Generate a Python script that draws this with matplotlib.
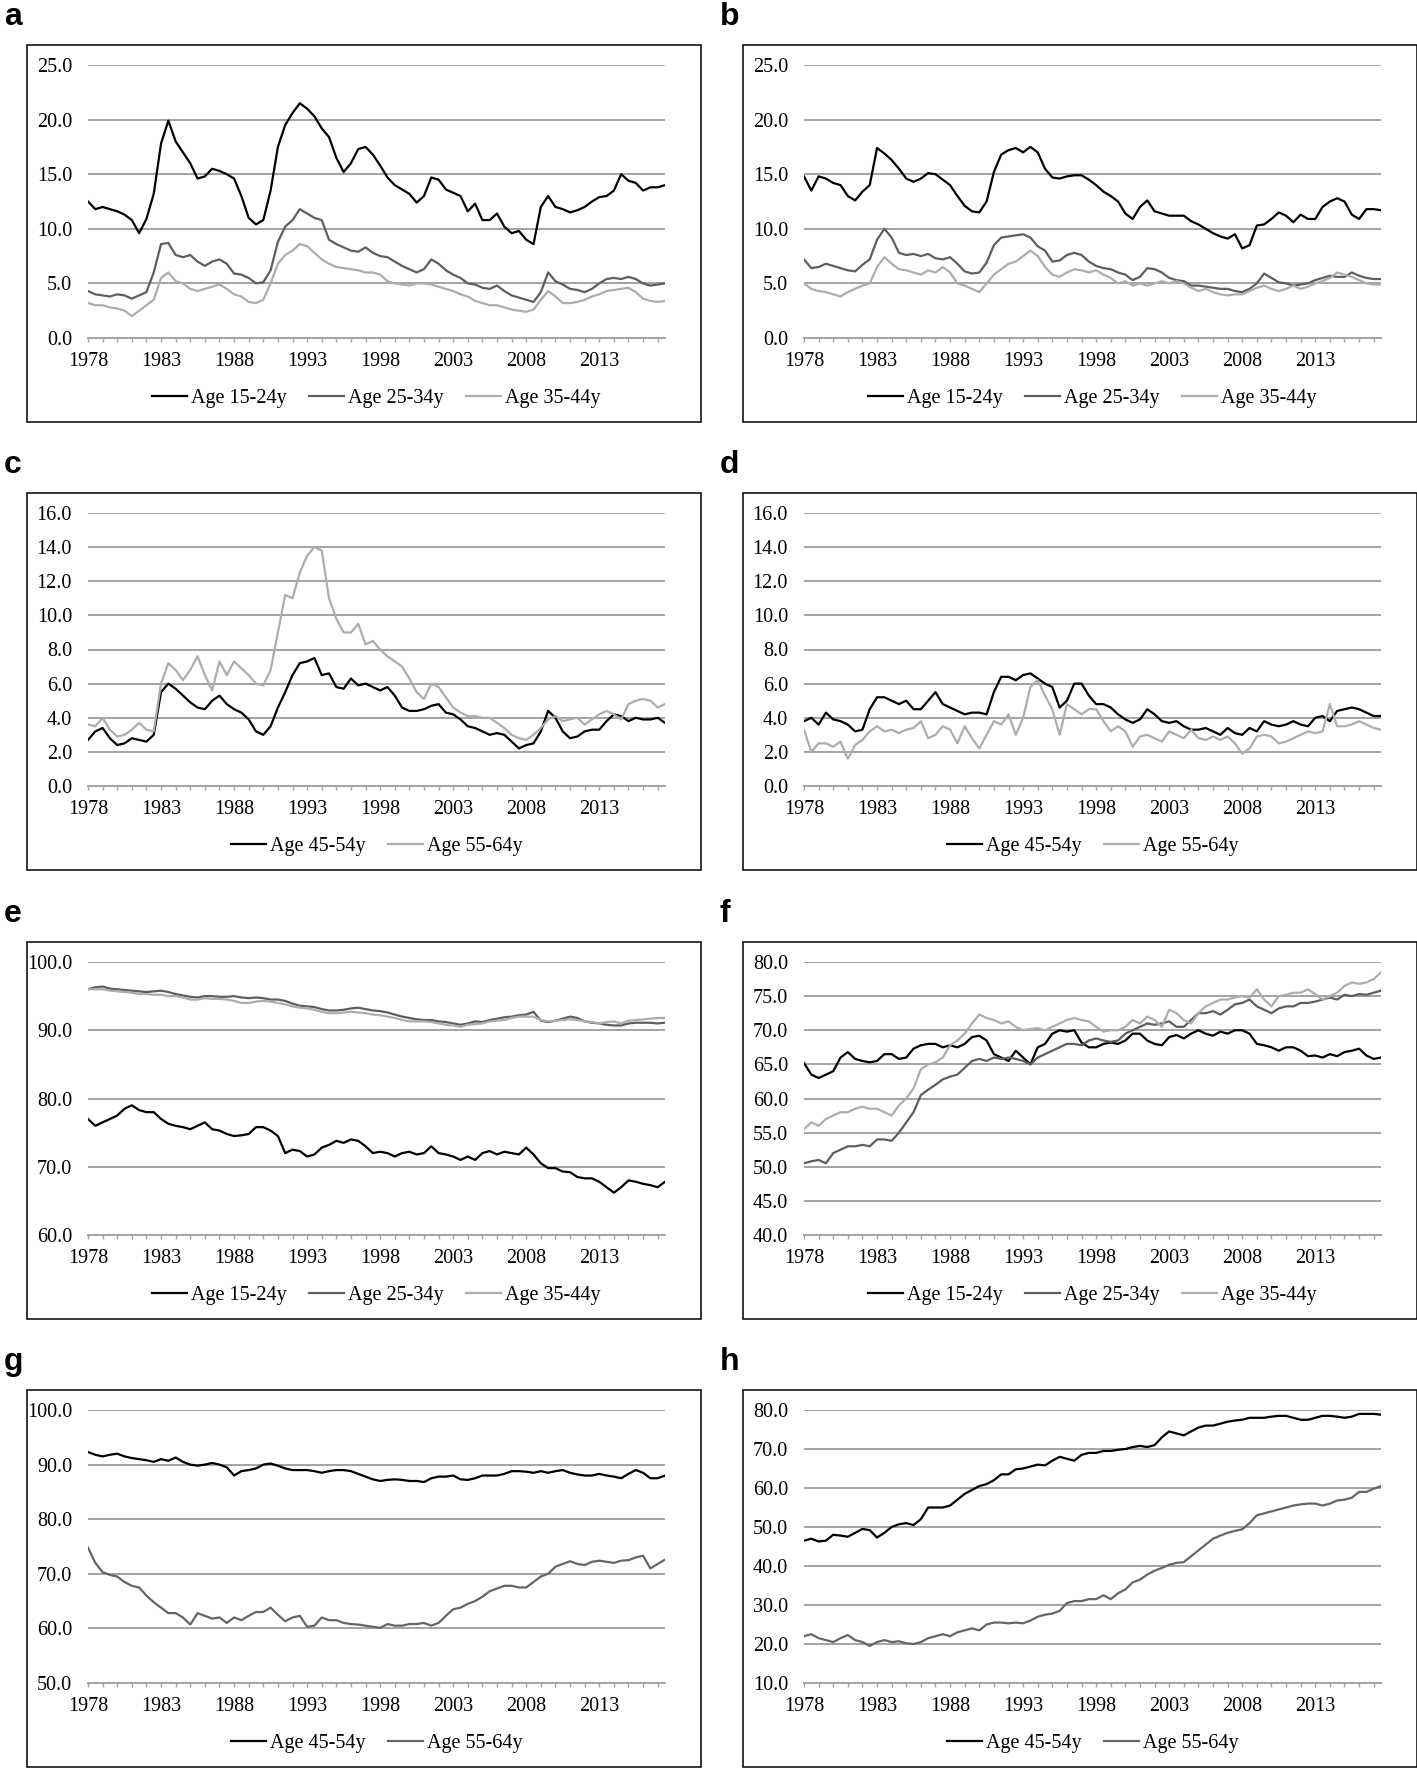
import numpy as np
import matplotlib.pyplot as plt
from matplotlib.patches import Rectangle

# half-year sample dates, 1978.0 ... 2017.5
t = 1978 + 0.5 * np.arange(80)

# a: unemployment rate, ages 15-44 (first group)
a_15 = [12.5, 11.8, 12.0, 11.8, 11.6, 11.3, 10.8, 9.6, 10.9, 13.2,
        17.8, 19.9, 18.0, 17.0, 16.0, 14.6, 14.8, 15.5, 15.3, 15.0,
        14.6, 13.0, 11.0, 10.4, 10.8, 13.5, 17.5, 19.5, 20.6, 21.5,
        21.0, 20.3, 19.2, 18.4, 16.5, 15.2, 16.0, 17.3, 17.5, 16.8,
        15.8, 14.7, 14.0, 13.6, 13.2, 12.4, 13.0, 14.7, 14.5, 13.6,
        13.3, 13.0, 11.6, 12.3, 10.8, 10.8, 11.4, 10.2, 9.6, 9.8,
        9.0, 8.6, 12.0, 13.0, 12.0, 11.8, 11.5, 11.7, 12.0, 12.5,
        12.9, 13.0, 13.5, 15.0, 14.4, 14.2, 13.5, 13.8, 13.8, 14.0]
a_25 = [4.3, 4.0, 3.9, 3.8, 4.0, 3.9, 3.6, 3.9, 4.2, 6.0,
        8.6, 8.7, 7.6, 7.4, 7.6, 7.0, 6.6, 7.0, 7.2, 6.8,
        5.9, 5.8, 5.5, 5.0, 5.1, 6.2, 8.8, 10.2, 10.8, 11.8,
        11.4, 11.0, 10.8, 9.0, 8.6, 8.3, 8.0, 7.9, 8.3, 7.8,
        7.5, 7.4, 7.0, 6.6, 6.3, 6.0, 6.3, 7.2, 6.8, 6.2,
        5.8, 5.5, 5.0, 4.9, 4.6, 4.5, 4.8, 4.3, 3.9, 3.7,
        3.5, 3.3, 4.2, 6.0, 5.2, 4.9, 4.5, 4.4, 4.2, 4.5,
        5.0, 5.4, 5.5, 5.4, 5.6, 5.4, 5.0, 4.8, 4.9, 5.0]
a_35 = [3.2, 3.0, 3.0, 2.8, 2.7, 2.5, 2.0, 2.5, 3.0, 3.5,
        5.5, 6.0, 5.2, 5.0, 4.5, 4.3, 4.5, 4.7, 4.9, 4.5,
        4.0, 3.8, 3.3, 3.2, 3.5, 5.0, 6.8, 7.6, 8.0, 8.6,
        8.4, 7.8, 7.2, 6.8, 6.5, 6.4, 6.3, 6.2, 6.0, 6.0,
        5.8, 5.2, 5.0, 4.9, 4.8, 5.0, 5.0, 4.9, 4.7, 4.5,
        4.3, 4.0, 3.8, 3.4, 3.2, 3.0, 3.0, 2.8, 2.6, 2.5,
        2.4, 2.6, 3.5, 4.3, 3.8, 3.2, 3.2, 3.3, 3.5, 3.8,
        4.0, 4.3, 4.4, 4.5, 4.6, 4.2, 3.6, 3.4, 3.3, 3.4]

# b
b_15 = [14.8, 13.5, 14.8, 14.6, 14.2, 14.0, 13.0, 12.6, 13.4, 14.0,
        17.4, 16.9, 16.3, 15.5, 14.6, 14.3, 14.6, 15.1, 15.0, 14.5,
        14.0, 13.0, 12.1, 11.6, 11.5, 12.5, 15.2, 16.8, 17.2, 17.4,
        17.0, 17.5, 17.0, 15.5, 14.7, 14.6, 14.8, 14.9, 14.9, 14.5,
        14.0, 13.4, 13.0, 12.5, 11.4, 10.9, 12.0, 12.6, 11.6, 11.4,
        11.2, 11.2, 11.2, 10.7, 10.4, 10.0, 9.6, 9.3, 9.1, 9.5,
        8.2, 8.5, 10.3, 10.4, 10.9, 11.5, 11.2, 10.6, 11.3, 10.9,
        10.9, 12.0, 12.5, 12.8, 12.5, 11.3, 10.9, 11.8, 11.8, 11.7]
b_25 = [7.2, 6.4, 6.5, 6.8, 6.6, 6.4, 6.2, 6.1, 6.7, 7.2,
        9.0, 10.0, 9.2, 7.8, 7.6, 7.7, 7.5, 7.7, 7.3, 7.2,
        7.4, 6.8, 6.1, 5.9, 6.0, 6.9, 8.5, 9.2, 9.3, 9.4,
        9.5, 9.2, 8.4, 8.0, 7.0, 7.1, 7.6, 7.8, 7.6, 7.0,
        6.6, 6.4, 6.3, 6.0, 5.8, 5.3, 5.6, 6.4, 6.3, 6.0,
        5.5, 5.3, 5.2, 4.8, 4.8, 4.7, 4.6, 4.5, 4.5, 4.3,
        4.2, 4.5, 5.0, 5.9, 5.5, 5.1, 5.0, 4.8, 4.9, 5.0,
        5.3, 5.5, 5.7, 5.6, 5.6, 6.0, 5.7, 5.5, 5.4, 5.4]
b_35 = [5.0, 4.5, 4.3, 4.2, 4.0, 3.8, 4.2, 4.5, 4.8, 5.0,
        6.5, 7.4, 6.8, 6.3, 6.2, 6.0, 5.8, 6.2, 6.0, 6.5,
        6.0, 5.0, 4.8, 4.5, 4.2, 5.0, 5.8, 6.3, 6.8, 7.0,
        7.5, 8.0, 7.5, 6.5, 5.8, 5.6, 6.0, 6.3, 6.2, 6.0,
        6.2, 5.8, 5.5, 5.0, 5.2, 4.8, 5.0, 4.8, 5.0, 5.2,
        5.0, 5.2, 5.0, 4.6, 4.3, 4.5, 4.2, 4.0, 3.9, 4.0,
        4.0, 4.3, 4.6, 4.8, 4.5, 4.3, 4.5, 4.8, 4.5, 4.7,
        5.0, 5.2, 5.5, 6.0, 5.8, 5.6, 5.3, 5.0, 4.9, 4.9]

# c
c_45 = [2.7, 3.2, 3.4, 2.8, 2.4, 2.5, 2.8, 2.7, 2.6, 3.0,
        5.5, 6.0, 5.7, 5.3, 4.9, 4.6, 4.5, 5.0, 5.3, 4.8,
        4.5, 4.3, 3.9, 3.2, 3.0, 3.5, 4.6, 5.5, 6.5, 7.2,
        7.3, 7.5, 6.5, 6.6, 5.8, 5.7, 6.3, 5.9, 6.0, 5.8,
        5.6, 5.8, 5.3, 4.6, 4.4, 4.4, 4.5, 4.7, 4.8, 4.3,
        4.2, 3.9, 3.5, 3.4, 3.2, 3.0, 3.1, 3.0, 2.6, 2.2,
        2.4, 2.5, 3.2, 4.4, 4.0, 3.2, 2.8, 2.9, 3.2, 3.3,
        3.3, 3.8, 4.2, 4.1, 3.8, 4.0, 3.9, 3.9, 4.0, 3.7]
c_55 = [3.6, 3.5, 4.0, 3.3, 2.9, 3.0, 3.3, 3.7, 3.3, 3.2,
        6.0, 7.2, 6.8, 6.2, 6.8, 7.6, 6.5, 5.6, 7.3, 6.5,
        7.3, 6.9, 6.5, 6.0, 5.9, 6.8, 9.0, 11.2, 11.0, 12.5,
        13.5, 14.0, 13.8, 11.0, 9.8, 9.0, 9.0, 9.5, 8.3, 8.5,
        8.0, 7.6, 7.3, 7.0, 6.3, 5.5, 5.1, 6.0, 5.8, 5.2,
        4.6, 4.3, 4.1, 4.1, 4.0, 4.0, 3.7, 3.4, 3.0, 2.8,
        2.7, 3.0, 3.4, 3.9, 4.1, 3.8, 3.9, 4.0, 3.6, 3.9,
        4.2, 4.4, 4.2, 3.9, 4.8, 5.0, 5.1, 5.0, 4.6, 4.8]

# d
d_45 = [3.8, 4.0, 3.6, 4.3, 3.9, 3.8, 3.6, 3.2, 3.3, 4.5,
        5.2, 5.2, 5.0, 4.8, 5.0, 4.5, 4.5, 5.0, 5.5, 4.8,
        4.6, 4.4, 4.2, 4.3, 4.3, 4.2, 5.5, 6.4, 6.4, 6.2,
        6.5, 6.6, 6.3, 6.0, 5.8, 4.6, 5.0, 6.0, 6.0, 5.3,
        4.8, 4.8, 4.6, 4.2, 3.9, 3.7, 3.9, 4.5, 4.2, 3.8,
        3.7, 3.8, 3.5, 3.3, 3.3, 3.4, 3.2, 3.0, 3.4, 3.1,
        3.0, 3.4, 3.2, 3.8, 3.6, 3.5, 3.6, 3.8, 3.6, 3.5,
        4.0, 4.1, 3.8, 4.4, 4.5, 4.6, 4.5, 4.3, 4.1, 4.1]
d_55 = [3.3, 2.0, 2.5, 2.5, 2.3, 2.6, 1.6, 2.4, 2.7, 3.2,
        3.5, 3.2, 3.3, 3.1, 3.3, 3.4, 3.8, 2.8, 3.0, 3.5,
        3.3, 2.5, 3.5, 2.8, 2.2, 3.0, 3.8, 3.6, 4.2, 3.0,
        4.0, 5.8, 6.2, 5.3, 4.5, 3.0, 4.8, 4.5, 4.2, 4.5,
        4.5, 3.8, 3.2, 3.5, 3.2, 2.3, 2.9, 3.0, 2.8, 2.6,
        3.2, 3.0, 2.8, 3.3, 2.8, 2.7, 2.9, 2.7, 2.9, 2.5,
        1.9, 2.2, 2.9, 3.0, 2.9, 2.5, 2.6, 2.8, 3.0, 3.2,
        3.1, 3.2, 4.8, 3.5, 3.5, 3.6, 3.8, 3.6, 3.4, 3.3]

# e
e_15 = [77.0, 76.0, 76.5, 77.0, 77.5, 78.5, 79.0, 78.3, 78.0, 78.0,
        77.0, 76.3, 76.0, 75.8, 75.5, 76.0, 76.5, 75.5, 75.3, 74.8,
        74.5, 74.6, 74.8, 75.8, 75.8, 75.3, 74.5, 72.0, 72.5, 72.3,
        71.5, 71.8, 72.8, 73.2, 73.8, 73.5, 74.0, 73.8, 73.0, 72.0,
        72.2, 72.0, 71.5, 72.0, 72.2, 71.8, 72.0, 73.0, 72.0, 71.8,
        71.5, 71.0, 71.5, 71.0, 72.0, 72.3, 71.8, 72.2, 72.0, 71.8,
        72.8, 71.8, 70.5, 69.8, 69.8, 69.3, 69.2, 68.5, 68.3, 68.3,
        67.8, 67.0, 66.2, 67.0, 68.0, 67.8, 67.5, 67.3, 67.0, 67.8]
e_25 = [96.0, 96.3, 96.4, 96.1, 96.0, 95.9, 95.8, 95.7, 95.6, 95.7,
        95.8, 95.6, 95.3, 95.1, 94.9, 94.8, 95.0, 95.0, 94.9, 94.9,
        95.0, 94.8, 94.7, 94.8, 94.7, 94.5, 94.5, 94.3, 93.9, 93.6,
        93.5, 93.4, 93.1, 92.9, 92.9, 93.0, 93.2, 93.3, 93.1, 92.9,
        92.8, 92.6, 92.3, 92.0, 91.8, 91.6, 91.5, 91.5, 91.3, 91.2,
        91.0, 90.8, 91.0, 91.3, 91.2, 91.5, 91.7, 91.9, 92.0, 92.2,
        92.3, 92.7, 91.4, 91.2, 91.4, 91.7, 92.0, 91.8, 91.3, 91.1,
        91.0, 90.8, 90.7, 90.7, 91.0, 91.1, 91.1, 91.1, 91.0, 91.1]
e_35 = [96.0, 96.0, 96.0, 95.8, 95.7, 95.6, 95.5, 95.3, 95.3, 95.2,
        95.2, 95.0, 95.0, 94.8, 94.5, 94.5, 94.7, 94.6, 94.6, 94.5,
        94.3, 94.0, 94.0, 94.2, 94.3, 94.2, 94.0, 93.8, 93.5, 93.3,
        93.2, 93.0, 92.7, 92.5, 92.5, 92.6, 92.7, 92.6, 92.5, 92.3,
        92.2, 92.0, 91.8, 91.5, 91.3, 91.3, 91.3, 91.2, 91.0, 90.8,
        90.7, 90.5, 90.8, 90.9, 91.0, 91.3, 91.4, 91.5, 91.8, 92.0,
        92.0, 92.0, 91.5, 91.3, 91.4, 91.5, 91.6, 91.5, 91.3, 91.2,
        91.0, 91.2, 91.3, 91.0, 91.4, 91.5, 91.6, 91.7, 91.8, 91.8]

# f
f_15 = [65.2, 63.5, 63.0, 63.5, 64.0, 66.0, 66.8, 65.8, 65.5, 65.3,
        65.5, 66.5, 66.5, 65.8, 66.0, 67.3, 67.8, 68.0, 68.0, 67.5,
        67.8, 67.5, 68.0, 69.0, 69.2, 68.5, 66.5, 66.0, 65.5, 67.0,
        66.0, 65.0, 67.5, 68.0, 69.5, 70.0, 69.8, 70.0, 68.2, 67.5,
        67.5, 68.0, 68.2, 68.0, 68.5, 69.5, 69.5, 68.5, 68.0, 67.8,
        69.0, 69.3, 68.8, 69.5, 70.0, 69.5, 69.2, 69.8, 69.5, 70.0,
        70.0, 69.5, 68.0, 67.8, 67.5, 67.0, 67.5, 67.5, 67.0, 66.2,
        66.3, 66.0, 66.5, 66.2, 66.8, 67.0, 67.3, 66.3, 65.8, 66.0]
f_25 = [50.5, 50.8, 51.0, 50.5, 52.0, 52.5, 53.0, 53.0, 53.2, 53.0,
        54.0, 54.0, 53.8, 55.0, 56.5, 58.0, 60.5, 61.3, 62.0, 62.8,
        63.2, 63.5, 64.5, 65.5, 65.8, 65.5, 66.0, 65.8, 66.0, 65.8,
        65.5, 65.0, 66.0, 66.5, 67.0, 67.5, 68.0, 68.0, 67.8, 68.5,
        68.8, 68.5, 68.3, 68.5, 69.5, 70.0, 70.5, 71.0, 70.8, 71.0,
        71.3, 70.5, 70.5, 71.5, 72.5, 72.5, 72.8, 72.3, 73.0, 73.8,
        74.0, 74.5, 73.5, 73.0, 72.5, 73.2, 73.5, 73.5, 74.0, 74.0,
        74.2, 74.5, 74.8, 74.5, 75.2, 75.0, 75.3, 75.2, 75.5, 75.8]
f_35 = [55.5, 56.5, 56.0, 57.0, 57.5, 58.0, 58.0, 58.5, 58.8, 58.5,
        58.5, 58.0, 57.5, 59.0, 60.0, 61.5, 64.3, 65.0, 65.3, 66.0,
        67.8, 68.5, 69.5, 71.0, 72.3, 71.8, 71.5, 71.0, 71.3, 70.5,
        70.0, 70.2, 70.3, 70.0, 70.5, 71.0, 71.5, 71.8, 71.5, 71.3,
        70.5, 69.8, 70.0, 70.0, 70.5, 71.5, 71.0, 72.0, 71.5, 70.5,
        73.0, 72.5, 71.5, 71.0, 72.5, 73.5, 74.0, 74.5, 74.5, 74.8,
        75.0, 74.8, 76.0, 74.5, 73.5, 75.0, 75.2, 75.5, 75.5, 76.0,
        75.3, 74.5, 75.0, 75.5, 76.5, 77.0, 76.8, 77.0, 77.5, 78.5]

# g
g_45 = [92.3, 91.8, 91.5, 91.8, 92.0, 91.5, 91.2, 91.0, 90.8, 90.5,
        91.0, 90.7, 91.3, 90.5, 90.0, 89.8, 90.0, 90.3, 90.0, 89.5,
        88.0, 88.8, 89.0, 89.3, 90.0, 90.2, 89.8, 89.3, 89.0, 89.0,
        89.0, 88.8, 88.5, 88.8, 89.0, 89.0, 88.8, 88.3, 87.8, 87.3,
        87.0, 87.2, 87.3, 87.2, 87.0, 87.0, 86.8, 87.5, 87.8, 87.8,
        88.0, 87.3, 87.2, 87.5, 88.0, 88.0, 88.0, 88.3, 88.8, 88.8,
        88.7, 88.5, 88.8, 88.5, 88.8, 89.0, 88.5, 88.2, 88.0, 88.0,
        88.3, 88.0, 87.8, 87.5, 88.3, 89.0, 88.5, 87.5, 87.5, 88.0]
g_55 = [74.8, 72.0, 70.3, 69.8, 69.5, 68.5, 67.8, 67.5, 66.0, 64.8,
        63.8, 62.8, 62.8, 62.0, 60.7, 62.8, 62.3, 61.8, 62.0, 61.0,
        62.0, 61.5, 62.3, 63.0, 63.0, 63.8, 62.5, 61.3, 62.0, 62.3,
        60.3, 60.5, 62.0, 61.5, 61.5, 61.0, 60.8, 60.7, 60.5, 60.3,
        60.1, 60.8, 60.5, 60.5, 60.8, 60.8, 61.0, 60.5, 61.0, 62.3,
        63.5, 63.8, 64.5, 65.0, 65.8, 66.8, 67.3, 67.8, 67.8, 67.5,
        67.5, 68.5, 69.5, 70.0, 71.3, 71.8, 72.3, 71.8, 71.6, 72.2,
        72.4, 72.2, 72.0, 72.4, 72.5, 73.0, 73.3, 71.0, 71.8, 72.6]

# h
h_45 = [46.5, 47.0, 46.3, 46.5, 48.0, 47.8, 47.5, 48.5, 49.5, 49.2,
        47.3, 48.5, 50.0, 50.7, 51.0, 50.5, 52.0, 55.0, 55.0, 55.0,
        55.5, 57.0, 58.5, 59.5, 60.5, 61.0, 62.0, 63.5, 63.5, 64.8,
        65.0, 65.5, 66.0, 65.8, 67.0, 68.0, 67.5, 67.0, 68.5, 69.0,
        69.0, 69.5, 69.5, 69.8, 70.0, 70.5, 70.8, 70.5, 71.0, 73.0,
        74.5, 74.0, 73.5, 74.5, 75.5, 76.0, 76.0, 76.5, 77.0, 77.3,
        77.5, 78.0, 78.0, 78.0, 78.3, 78.5, 78.5, 78.0, 77.5, 77.5,
        78.0, 78.5, 78.5, 78.3, 78.0, 78.3, 79.0, 79.0, 79.0, 78.8]
h_55 = [22.0, 22.5, 21.5, 21.0, 20.5, 21.5, 22.3, 21.0, 20.5, 19.5,
        20.5, 21.0, 20.5, 20.7, 20.2, 20.0, 20.5, 21.5, 22.0, 22.5,
        22.0, 23.0, 23.5, 24.0, 23.5, 25.0, 25.5, 25.5, 25.3, 25.5,
        25.3, 26.0, 27.0, 27.5, 27.8, 28.5, 30.5, 31.0, 31.0, 31.5,
        31.5, 32.5, 31.5, 33.0, 34.0, 35.8, 36.5, 37.8, 38.8, 39.5,
        40.3, 40.8, 41.0, 42.5, 44.0, 45.5, 47.0, 47.8, 48.5, 49.0,
        49.4, 51.0, 53.0, 53.5, 54.0, 54.5, 55.0, 55.5, 55.8, 56.0,
        56.0, 55.5, 56.0, 56.8, 57.0, 57.5, 59.0, 59.0, 59.8, 60.5]

W, H = 1417, 1768
plt.rcParams['font.family'] = ['Liberation Serif', 'DejaVu Serif']
fig = plt.figure(figsize=(W / 100, H / 100), dpi=100)

BLACK, DARK, LIGHT, GRAY55 = '#000000', '#5e5e5e', '#adadad', '#666666'
GRID = '#a3a3a3'
FS = 14.5

col_x = [27, 743]
row_y = [45, 493, 942, 1390]
BOX_W, BOX_H = 674, 377
PLOT_DX, PLOT_DY, PLOT_W, PLOT_H = 61, 20, 577, 273


def panel(letter, col, row, series, lo, hi, step):
    bx, by = col_x[col], row_y[row]
    fig.add_artist(Rectangle((bx / W, 1 - (by + BOX_H) / H), BOX_W / W, BOX_H / H,
                             transform=fig.transFigure, fill=False, ec='black', lw=1.1))
    fig.text((bx - 23) / W, 1 - (by - 20) / H, letter, family='Liberation Sans',
             weight='bold', fontsize=23, va='baseline', ha='left')

    px, py = bx + PLOT_DX, by + PLOT_DY
    ax = fig.add_axes([px / W, 1 - (py + PLOT_H) / H, PLOT_W / W, PLOT_H / H])
    for label, vals, color in series:
        ax.plot(t, vals, color=color, lw=1.6, label=label)

    ax.set_xlim(1978, 2017.5)
    ax.set_ylim(lo, hi)
    ax.set_yticks(np.arange(lo, hi + 0.01, step))
    ax.yaxis.set_major_formatter(plt.FormatStrFormatter('%.1f'))
    years = np.arange(1978, 2018)
    ax.set_xticks(years)
    ax.set_xticklabels([str(y) if (y - 1978) % 5 == 0 else '' for y in years])

    ax.yaxis.grid(True, color=GRID, lw=1.4)
    ax.set_axisbelow(True)
    for s in ['top', 'right', 'left']:
        ax.spines[s].set_visible(False)
    ax.spines['bottom'].set_color(GRID)
    ax.spines['bottom'].set_linewidth(1.4)
    ax.tick_params(axis='y', length=0, pad=11.5, labelsize=FS)
    ax.tick_params(axis='x', length=3, width=1, color=GRID, direction='out',
                   pad=7, labelsize=FS)

    ax.legend(loc='center', bbox_to_anchor=((px + PLOT_W / 2) / W, 1 - (by + 353) / H),
              bbox_transform=fig.transFigure, ncol=len(series), frameon=False,
              handlelength=1.75, handletextpad=0.2, columnspacing=1.1,
              fontsize=FS, borderaxespad=0)


young = ['Age 15-24y', 'Age 25-34y', 'Age 35-44y']
old = ['Age 45-54y', 'Age 55-64y']

panel('a', 0, 0, list(zip(young, [a_15, a_25, a_35], [BLACK, DARK, LIGHT])), 0, 25, 5)
panel('b', 1, 0, list(zip(young, [b_15, b_25, b_35], [BLACK, DARK, LIGHT])), 0, 25, 5)
panel('c', 0, 1, list(zip(old, [c_45, c_55], [BLACK, LIGHT])), 0, 16, 2)
panel('d', 1, 1, list(zip(old, [d_45, d_55], [BLACK, LIGHT])), 0, 16, 2)
panel('e', 0, 2, list(zip(young, [e_15, e_25, e_35], [BLACK, DARK, LIGHT])), 60, 100, 10)
panel('f', 1, 2, list(zip(young, [f_15, f_25, f_35], [BLACK, DARK, LIGHT])), 40, 80, 5)
panel('g', 0, 3, list(zip(old, [g_45, g_55], [BLACK, GRAY55])), 50, 100, 10)
panel('h', 1, 3, list(zip(old, [h_45, h_55], [BLACK, GRAY55])), 10, 80, 10)

fig.savefig('out.png', dpi=100)
